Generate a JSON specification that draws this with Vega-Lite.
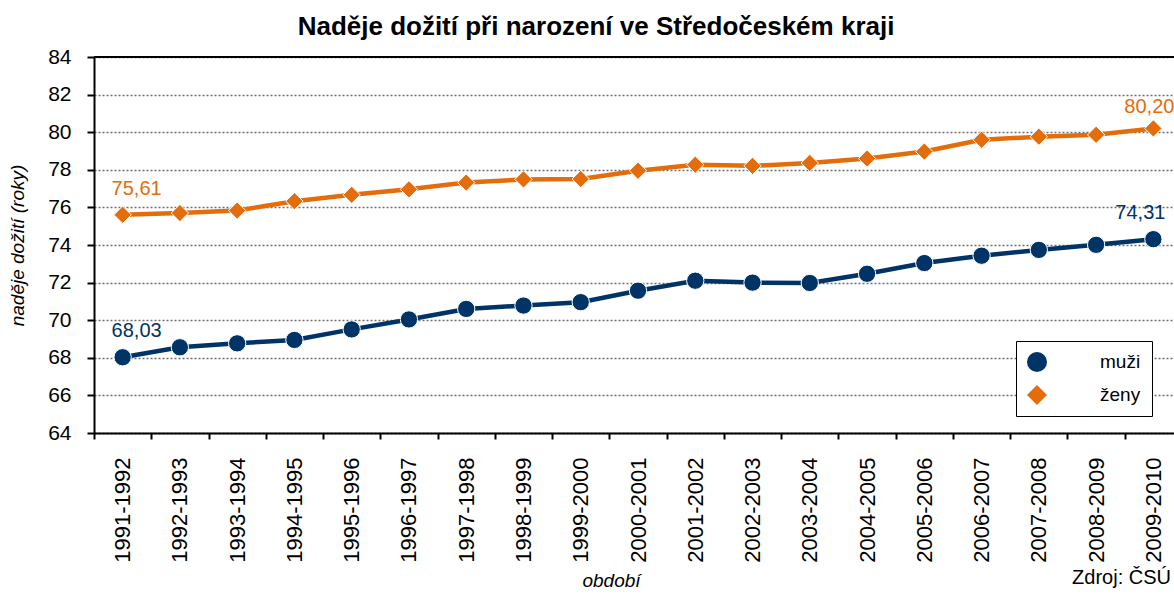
{
  "$schema": "https://vega.github.io/schema/vega-lite/v6.json",
  "padding": {"left": 8, "top": 14, "right": 0, "bottom": 0},
  "background": "white",
  "config": {
    "view": {"stroke": null},
    "font": "Liberation Sans",
    "locale": {"number": {"decimal": ",", "thousands": " ", "grouping": [3], "currency": ["", " Kč"]}},
    "axis": {"domainColor": "black", "domainWidth": 2, "tickColor": "black", "tickWidth": 2, "labelColor": "black", "titleColor": "black", "labelFont": "Liberation Sans", "titleFont": "Liberation Sans"},
    "concat": {"spacing": 0}
  },
  "title": {"text": "Naděje dožití při narození ve Středočeském  kraji", "font": "Liberation Sans", "fontSize": 26, "fontWeight": "bold", "color": "black", "anchor": "start", "dx": 289, "offset": 6},
  "vconcat": [
    {
      "width": 1088,
      "height": 376,
      "title": {"text": "Zdroj: ČSÚ", "orient": "bottom", "anchor": "end", "frame": "group", "font": "Liberation Sans", "fontSize": 20, "fontWeight": "normal", "color": "black", "dx": -11, "offset": -22},
      "data": {"values": [
        {"obdobi": "1991-1992", "pohlavi": "muži", "value": 68.03},
        {"obdobi": "1992-1993", "pohlavi": "muži", "value": 68.56},
        {"obdobi": "1993-1994", "pohlavi": "muži", "value": 68.77},
        {"obdobi": "1994-1995", "pohlavi": "muži", "value": 68.95},
        {"obdobi": "1995-1996", "pohlavi": "muži", "value": 69.51},
        {"obdobi": "1996-1997", "pohlavi": "muži", "value": 70.04},
        {"obdobi": "1997-1998", "pohlavi": "muži", "value": 70.60},
        {"obdobi": "1998-1999", "pohlavi": "muži", "value": 70.78},
        {"obdobi": "1999-2000", "pohlavi": "muži", "value": 70.96},
        {"obdobi": "2000-2001", "pohlavi": "muži", "value": 71.57},
        {"obdobi": "2001-2002", "pohlavi": "muži", "value": 72.10},
        {"obdobi": "2002-2003", "pohlavi": "muži", "value": 72.00},
        {"obdobi": "2003-2004", "pohlavi": "muži", "value": 71.98},
        {"obdobi": "2004-2005", "pohlavi": "muži", "value": 72.47},
        {"obdobi": "2005-2006", "pohlavi": "muži", "value": 73.04},
        {"obdobi": "2006-2007", "pohlavi": "muži", "value": 73.43},
        {"obdobi": "2007-2008", "pohlavi": "muži", "value": 73.74},
        {"obdobi": "2008-2009", "pohlavi": "muži", "value": 74.01},
        {"obdobi": "2009-2010", "pohlavi": "muži", "value": 74.31},
        {"obdobi": "1991-1992", "pohlavi": "ženy", "value": 75.61},
        {"obdobi": "1992-1993", "pohlavi": "ženy", "value": 75.70},
        {"obdobi": "1993-1994", "pohlavi": "ženy", "value": 75.83},
        {"obdobi": "1994-1995", "pohlavi": "ženy", "value": 76.33},
        {"obdobi": "1995-1996", "pohlavi": "ženy", "value": 76.67},
        {"obdobi": "1996-1997", "pohlavi": "ženy", "value": 76.96},
        {"obdobi": "1997-1998", "pohlavi": "ženy", "value": 77.32},
        {"obdobi": "1998-1999", "pohlavi": "ženy", "value": 77.49},
        {"obdobi": "1999-2000", "pohlavi": "ženy", "value": 77.51},
        {"obdobi": "2000-2001", "pohlavi": "ženy", "value": 77.95},
        {"obdobi": "2001-2002", "pohlavi": "ženy", "value": 78.27},
        {"obdobi": "2002-2003", "pohlavi": "ženy", "value": 78.21},
        {"obdobi": "2003-2004", "pohlavi": "ženy", "value": 78.36},
        {"obdobi": "2004-2005", "pohlavi": "ženy", "value": 78.60},
        {"obdobi": "2005-2006", "pohlavi": "ženy", "value": 78.97},
        {"obdobi": "2006-2007", "pohlavi": "ženy", "value": 79.60},
        {"obdobi": "2007-2008", "pohlavi": "ženy", "value": 79.76},
        {"obdobi": "2008-2009", "pohlavi": "ženy", "value": 79.86},
        {"obdobi": "2009-2010", "pohlavi": "ženy", "value": 80.20}
      ]},
      "encoding": {
        "x": {"field": "obdobi", "type": "ordinal", "scale": {"type": "band", "paddingInner": 0, "paddingOuter": 0},
              "axis": {"title": "období", "titleFontStyle": "italic", "titleFontWeight": "normal", "titleFontSize": 19, "titlePadding": 9, "titleX": 517, "titleAlign": "center", "labelAngle": -90, "labelFontSize": 22, "labelPadding": 18, "tickBand": "extent", "tickSize": 6, "grid": false}},
        "y": {"field": "value", "type": "quantitative", "scale": {"domain": [64, 84], "nice": false, "zero": false},
              "axis": {"title": "naděje dožití (roky)", "titleFontStyle": "italic", "titleFontWeight": "normal", "titleFontSize": 19, "titlePadding": 20, "values": [64, 66, 68, 70, 72, 74, 76, 78, 80, 82, 84], "labelFontSize": 21, "labelPadding": 16, "tickSize": 7, "grid": true, "gridDash": [2, 2], "gridColor": "#6e6e6e", "gridWidth": 1.5}},
        "color": {"field": "pohlavi", "type": "nominal", "scale": {"domain": ["muži", "ženy"], "range": ["#003366", "#E46C0A"]},
          "legend": {"title": null, "orient": "none", "legendX": 922, "legendY": 284, "strokeColor": "black", "fillColor": "white", "padding": 11, "rowPadding": 13, "symbolSize": 400, "symbolType": "M0.2,-0.18H5.4V0.18H0.2Z M3.3,0A0.5,0.5 0 1,1 2.3,0A0.5,0.5 0 1,1 3.3,0Z", "symbolStrokeWidth": 0, "labelFontSize": 19, "labelColor": "black", "labelOffset": 53}}
      },
      "layer": [
        {"mark": {"type": "rule", "color": "black", "strokeWidth": 1.5}, "encoding": {"y": {"datum": 84}, "x": null, "color": null}},
        {"mark": {"type": "line", "strokeWidth": 4.5}},
        {"mark": {"type": "point", "filled": true, "opacity": 1, "size": 300, "stroke": "white", "strokeWidth": 1},
         "encoding": {
           "shape": {"field": "pohlavi", "type": "nominal", "scale": {"domain": ["muži", "ženy"], "range": ["circle", "diamond"]}, "legend": null}
         }},
        {"transform": [{"filter": "datum.obdobi === '1991-1992'"}],
         "mark": {"type": "text", "fontSize": 20, "dx": 14, "dy": -26},
         "encoding": {"text": {"field": "value", "type": "quantitative", "format": ".2f"}}},
        {"transform": [{"filter": "datum.obdobi === '2009-2010' && datum.pohlavi === 'muži'"}],
         "mark": {"type": "text", "fontSize": 20, "dx": -13, "dy": -26},
         "encoding": {"text": {"field": "value", "type": "quantitative", "format": ".2f"}}},
        {"transform": [{"filter": "datum.obdobi === '2009-2010' && datum.pohlavi === 'ženy'"}],
         "mark": {"type": "text", "fontSize": 20, "dx": -4, "dy": -21},
         "encoding": {"text": {"field": "value", "type": "quantitative", "format": ".2f"}}}
      ]
    }
  ]
}
